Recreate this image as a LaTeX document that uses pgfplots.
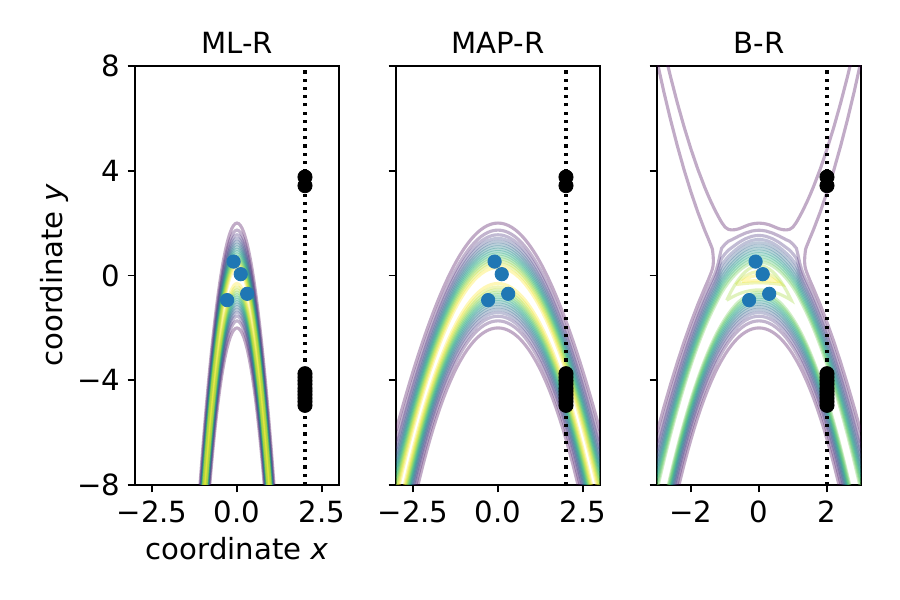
\documentclass[border=0pt]{standalone}
\usepackage{fontspec}
\setmainfont{DejaVu Sans}[ItalicFont={DejaVu Sans Oblique}]
\usepackage{pgfplots}
\usepackage{pgfplotstable}
\pgfplotsset{compat=1.18}

\definecolor{tabblue}{RGB}{31,119,180}
% viridis, one colour per density level
\definecolor{lev1}{RGB}{68,1,84}
\definecolor{lev2}{RGB}{71,26,107}
\definecolor{lev3}{RGB}{69,49,125}
\definecolor{lev4}{RGB}{63,71,136}
\definecolor{lev5}{RGB}{55,91,140}
\definecolor{lev6}{RGB}{47,110,142}
\definecolor{lev7}{RGB}{40,126,142}
\definecolor{lev8}{RGB}{35,144,140}
\definecolor{lev9}{RGB}{34,162,135}
\definecolor{lev10}{RGB}{48,178,124}
\definecolor{lev11}{RGB}{77,193,107}
\definecolor{lev12}{RGB}{115,207,85}
\definecolor{lev13}{RGB}{161,217,56}
\definecolor{lev14}{RGB}{207,225,41}
\definecolor{lev15}{RGB}{253,231,37}

% level k: half-width d (in units of s), upper half-width D and shoulder weight e
\def\setlevel#1#2#3#4{%
  \expandafter\def\csname dk#1\endcsname{#2}%
  \expandafter\def\csname Dk#1\endcsname{#3}%
  \expandafter\def\csname ek#1\endcsname{#4}}
\setlevel{1}{2.002}{1.963}{0}
\setlevel{2}{1.733}{1.689}{1.00}
\setlevel{3}{1.555}{1.505}{0.63}
\setlevel{4}{1.415}{1.361}{0.41}
\setlevel{5}{1.296}{1.236}{0.30}
\setlevel{6}{1.191}{1.125}{0.22}
\setlevel{7}{1.093}{1.021}{0.17}
\setlevel{8}{1.001}{0.922}{0.14}
\setlevel{9}{0.912}{0.824}{0.12}
\setlevel{10}{0.824}{0.726}{0.10}
\setlevel{11}{0.736}{0.624}{0.08}
\setlevel{12}{0.645}{0.513}{0.06}
\setlevel{13}{0.548}{0.385}{0}
\setlevel{14}{0.439}{0.202}{0}
\setlevel{15}{0.305}{0}{0}

% ML-R: mean curve m and spread s
\pgfplotstableread{
x m s
-1.25 -14.0625 1.5406
-1.20 -12.96 1.4719
-1.15 -11.9025 1.4085
-1.10 -10.89 1.3504
-1.05 -9.9225 1.2976
-1.00 -9.00 1.2500
-0.95 -8.1225 1.2075
-0.90 -7.29 1.1700
-0.85 -6.5025 1.1373
-0.80 -5.76 1.1092
-0.75 -5.0625 1.0853
-0.70 -4.41 1.0654
-0.65 -3.8025 1.0490
-0.60 -3.24 1.0358
-0.55 -2.7225 1.0254
-0.50 -2.25 1.0174
-0.45 -1.8225 1.0115
-0.40 -1.44 1.0072
-0.35 -1.1025 1.0042
-0.30 -0.81 1.0023
-0.25 -0.5625 1.0011
-0.20 -0.36 1.0004
-0.15 -0.2025 1.0001
-0.10 -0.09 1.0000
-0.05 -0.0225 1.0000
0.00 0.00 1.0000
0.05 -0.0225 1.0000
0.10 -0.09 1.0000
0.15 -0.2025 1.0001
0.20 -0.36 1.0004
0.25 -0.5625 1.0011
0.30 -0.81 1.0023
0.35 -1.1025 1.0042
0.40 -1.44 1.0072
0.45 -1.8225 1.0115
0.50 -2.25 1.0174
0.55 -2.7225 1.0254
0.60 -3.24 1.0358
0.65 -3.8025 1.0490
0.70 -4.41 1.0654
0.75 -5.0625 1.0853
0.80 -5.76 1.1092
0.85 -6.5025 1.1373
0.90 -7.29 1.1700
0.95 -8.1225 1.2075
1.00 -9.00 1.2500
1.05 -9.9225 1.2976
1.10 -10.89 1.3504
1.15 -11.9025 1.4085
1.20 -12.96 1.4719
1.25 -14.0625 1.5406
}\tabML

% MAP-R and B-R: mean curve m, spread s, shoulder lift h
\pgfplotstableread{
x m s h
-3.0 -9.00 1.5391 0
-2.9 -8.41 1.4817 0
-2.8 -7.84 1.4279 0
-2.7 -7.29 1.3777 0
-2.6 -6.76 1.3313 0
-2.5 -6.25 1.2885 0
-2.4 -5.76 1.2493 0
-2.3 -5.29 1.2136 0
-2.2 -4.84 1.1815 0
-2.1 -4.41 1.1527 0
-2.0 -4.00 1.1271 0
-1.9 -3.61 1.1046 0
-1.8 -3.24 1.0851 0
-1.7 -2.89 1.0682 0
-1.6 -2.56 1.0539 0
-1.5 -2.25 1.0419 0
-1.4 -1.96 1.0319 0
-1.3 -1.69 1.0238 0.02
-1.25 -1.5625 1.0204 0.085
-1.2 -1.44 1.0174 0.19
-1.15 -1.3225 1.0147 0.38
-1.1 -1.21 1.0123 0.54
-1.0 -1.00 1.0084 0.49
-0.9 -0.81 1.0055 0.42
-0.8 -0.64 1.0035 0.31
-0.7 -0.49 1.0020 0.23
-0.6 -0.36 1.0011 0.17
-0.5 -0.25 1.0005 0.12
-0.4 -0.16 1.0002 0.09
-0.3 -0.09 1.0001 0.06
-0.2 -0.04 1.0000 0.05
-0.1 -0.01 1.0000 0.04
0.0 0.00 1.0000 0.04
0.1 -0.01 1.0000 0.04
0.2 -0.04 1.0000 0.05
0.3 -0.09 1.0001 0.06
0.4 -0.16 1.0002 0.09
0.5 -0.25 1.0005 0.12
0.6 -0.36 1.0011 0.17
0.7 -0.49 1.0020 0.23
0.8 -0.64 1.0035 0.31
0.9 -0.81 1.0055 0.42
1.0 -1.00 1.0084 0.49
1.1 -1.21 1.0123 0.54
1.15 -1.3225 1.0147 0.38
1.2 -1.44 1.0174 0.19
1.25 -1.5625 1.0204 0.085
1.3 -1.69 1.0238 0.02
1.4 -1.96 1.0319 0
1.5 -2.25 1.0419 0
1.6 -2.56 1.0539 0
1.7 -2.89 1.0682 0
1.8 -3.24 1.0851 0
1.9 -3.61 1.1046 0
2.0 -4.00 1.1271 0
2.1 -4.41 1.1527 0
2.2 -4.84 1.1815 0
2.3 -5.29 1.2136 0
2.4 -5.76 1.2493 0
2.5 -6.25 1.2885 0
2.6 -6.76 1.3313 0
2.7 -7.29 1.3777 0
2.8 -7.84 1.4279 0
2.9 -8.41 1.4817 0
3.0 -9.00 1.5391 0
}\tabMB

% training points and test points
\pgfplotstableread{
x y
-0.10 0.53
0.11 0.05
0.30 -0.70
-0.29 -0.94
}\tabTrain
\pgfplotstableread{
x y
2 3.76
2 3.43
2 -3.75
2 -3.88
2 -4.02
2 -4.15
2 -4.30
2 -4.42
2 -4.55
2 -4.68
2 -4.82
2 -4.96
}\tabTest

\newcommand\bigfont{\fontsize{14}{16.8}\selectfont}

\pgfplotsset{
  panel/.style={
    scale only axis, width=97.92pt, height=201.12pt,
    anchor=south west,
    xmin=-3, xmax=3, ymin=-8, ymax=8,
    axis line style={line width=0.8pt},
    tick align=outside, tick pos=left,
    major tick length=3.5pt,
    every tick/.style={black, line width=0.8pt},
    ytick={-8,-4,0,4,8}, yticklabels={},
    tick label style={font=\bigfont},
    xticklabel style={anchor=north, inner sep=0pt, yshift=-3.9pt},
    yticklabel style={anchor=east, inner sep=0pt, xshift=-3.5pt},
    every axis title/.style={at={(0.5,1)}, anchor=base, yshift=6pt,
      inner sep=0pt, font=\bigfont},
  },
  cont/.style={line width=1.5pt, draw opacity=0.33, mark=none},
}

\newcommand\points{%
  \addplot[only marks, mark=*, mark size=3.2pt, tabblue,
    mark options={fill=tabblue, draw=none}] table {\tabTrain};
  \addplot[only marks, mark=*, mark size=3.4pt, black,
    mark options={fill=black, draw=none}] table {\tabTest};
}
\newcommand\testline{%
  \addplot[black, line width=1.5pt, dash pattern=on 1.5pt off 2.45pt]
    coordinates {(2,-8) (2,8)};
}

\begin{document}
\begin{tikzpicture}
\path[use as bounding box] (0,0) rectangle (432pt,288pt);

% ---------------- ML-R ----------------
\begin{axis}[panel, at={(64.8pt,55.2pt)}, title={ML-R},
  xtick={-2.5,0,2.5}, xticklabels={−2.5,0.0,2.5},
  yticklabels={−8,−4,0,4,8},
  xlabel={coordinate \textit{x}}, ylabel={coordinate \textit{y}},
  xlabel style={at={([yshift=-24.96pt]axis description cs:0.5,0)},
    anchor=north, inner sep=0pt, font=\bigfont},
  ylabel style={at={([xshift=-31.7pt]axis description cs:0,0.5)},
    rotate=0, anchor=south, inner sep=0pt, font=\bigfont}]
\points
\pgfplotsinvokeforeach{1,...,15}{
  \addplot[cont, draw=lev#1] table[x=x, y expr=\thisrow{m}+\csname dk#1\endcsname*\thisrow{s}] {\tabML};
  \addplot[cont, draw=lev#1] table[x=x, y expr=\thisrow{m}-\csname dk#1\endcsname*\thisrow{s}] {\tabML};
}
\testline
\end{axis}

% ---------------- MAP-R ----------------
\begin{axis}[panel, at={(190.08pt,55.2pt)}, title={MAP-R},
  xtick={-2.5,0,2.5}, xticklabels={−2.5,0.0,2.5}]
\points
\pgfplotsinvokeforeach{1,...,15}{
  \addplot[cont, draw=lev#1] table[x=x, y expr=\thisrow{m}+\csname dk#1\endcsname*\thisrow{s}] {\tabMB};
  \addplot[cont, draw=lev#1] table[x=x, y expr=\thisrow{m}-\csname dk#1\endcsname*\thisrow{s}] {\tabMB};
}
\testline
\end{axis}

% ---------------- B-R ----------------
\begin{axis}[panel, at={(315.36pt,55.2pt)}, title={B-R},
  xtick={-2,0,2}, xticklabels={−2,0,2}]
\points
% lowest level: upper branch and its bridge over the main band
\addplot[cont, draw=lev1] coordinates {
  (-2.8,8.66) (-2.6,7.58) (-2.4,6.58) (-2.2,5.66) (-2.0,4.82) (-1.8,4.06)
  (-1.6,3.38) (-1.5,3.07) (-1.4,2.78) (-1.3,2.51) (-1.2,2.26) (-1.1,2.03)
  (-1.0,1.85) (-0.9,1.76) (-0.8,1.74) (-0.7,1.75) (-0.6,1.78) (-0.5,1.83)
  (-0.4,1.885) (-0.3,1.935) (-0.2,1.97) (-0.1,1.99) (0,2.0)
  (0.1,1.99) (0.2,1.97) (0.3,1.935) (0.4,1.885) (0.5,1.83) (0.6,1.78)
  (0.7,1.75) (0.8,1.74) (0.9,1.76) (1.0,1.85) (1.1,2.03) (1.2,2.26)
  (1.3,2.51) (1.4,2.78) (1.5,3.07) (1.6,3.38) (1.8,4.06) (2.0,4.82)
  (2.2,5.66) (2.4,6.58) (2.6,7.58) (2.8,8.66)};
\addplot[cont, draw=lev1] coordinates {
  (-3.05,8.48) (-2.8,7.02) (-2.6,5.94) (-2.4,4.94) (-2.2,4.02) (-2.0,3.18)
  (-1.8,2.42) (-1.6,1.74) (-1.5,1.43) (-1.4,1.11) (-1.37,1.0) (-1.35,0.78)
  (-1.34,0.55) (-1.35,0.38) (-1.37,0.25) (-1.4,0.13) (-1.5,-0.195)
  (-1.6,-0.49) (-1.8,-1.11) (-2.0,-1.79) (-2.2,-2.52) (-2.4,-3.31)
  (-2.6,-4.15) (-2.8,-5.04) (-3.0,-5.98)};
\addplot[cont, draw=lev1] coordinates {
  (3.05,8.48) (2.8,7.02) (2.6,5.94) (2.4,4.94) (2.2,4.02) (2.0,3.18)
  (1.8,2.42) (1.6,1.74) (1.5,1.43) (1.4,1.11) (1.37,1.0) (1.35,0.78)
  (1.34,0.55) (1.35,0.38) (1.37,0.25) (1.4,0.13) (1.5,-0.195)
  (1.6,-0.49) (1.8,-1.11) (2.0,-1.79) (2.2,-2.52) (2.4,-3.31)
  (2.6,-4.15) (2.8,-5.04) (3.0,-5.98)};
\addplot[cont, draw=lev1] table[x=x, y expr=\thisrow{m}-2.002*\thisrow{s}] {\tabMB};
% levels 2 to 12 follow the main band
\pgfplotsinvokeforeach{2,...,12}{
  \addplot[cont, draw=lev#1] table[x=x, y expr=\thisrow{m}+\csname Dk#1\endcsname*\thisrow{s}+\csname ek#1\endcsname*\thisrow{h}] {\tabMB};
  \addplot[cont, draw=lev#1] table[x=x, y expr=\thisrow{m}-\csname dk#1\endcsname*\thisrow{s}] {\tabMB};
}
% highest levels close around the training points
\addplot[cont, draw=lev13] coordinates {
  (-0.95,-0.947) (-0.9,-0.811) (-0.8,-0.561) (-0.7,-0.340) (-0.6,-0.149)
  (-0.5,0.013) (-0.4,0.145) (-0.3,0.248) (-0.2,0.321) (-0.1,0.365) (0,0.38)
  (0.1,0.365) (0.2,0.321) (0.3,0.248) (0.4,0.145) (0.5,0.013) (0.6,-0.149)
  (0.7,-0.340) (0.8,-0.561) (0.9,-0.811) (0.95,-0.947)
  (0.9,-0.906) (0.8,-0.832) (0.7,-0.766) (0.6,-0.708) (0.5,-0.66)
  (0.4,-0.620) (0.3,-0.590) (0.2,-0.568) (0.1,-0.554) (0,-0.55)
  (-0.1,-0.554) (-0.2,-0.568) (-0.3,-0.590) (-0.4,-0.620) (-0.5,-0.66)
  (-0.6,-0.708) (-0.7,-0.766) (-0.8,-0.832) (-0.9,-0.906) (-0.95,-0.947)};
\addplot[cont, draw=lev14] coordinates {
  (-0.673,-0.348) (-0.6,-0.246) (-0.5,-0.125) (-0.4,-0.026) (-0.3,0.051)
  (-0.2,0.106) (-0.1,0.139) (0,0.15) (0.1,0.139) (0.2,0.106) (0.3,0.051)
  (0.4,-0.026) (0.5,-0.125) (0.6,-0.246) (0.673,-0.348)
  (0.6,-0.334) (0.5,-0.318) (0.4,-0.304) (0.3,-0.294) (0.2,-0.286)
  (0.1,-0.282) (0,-0.28) (-0.1,-0.282) (-0.2,-0.286) (-0.3,-0.294)
  (-0.4,-0.304) (-0.5,-0.318) (-0.6,-0.334) (-0.673,-0.348)};
\addplot[cont, draw=lev15] coordinates {
  (-0.5,-0.225) (-0.4,-0.144) (-0.3,-0.081) (-0.2,-0.036) (-0.1,-0.009)
  (0,0) (0.1,-0.009) (0.2,-0.036) (0.3,-0.081) (0.4,-0.144) (0.5,-0.225)
  (0.4,-0.216) (0.3,-0.209) (0.2,-0.204) (0.1,-0.201) (0,-0.2)
  (-0.1,-0.201) (-0.2,-0.204) (-0.3,-0.209) (-0.4,-0.216) (-0.5,-0.225)};
\testline
\end{axis}
\end{tikzpicture}
\end{document}
